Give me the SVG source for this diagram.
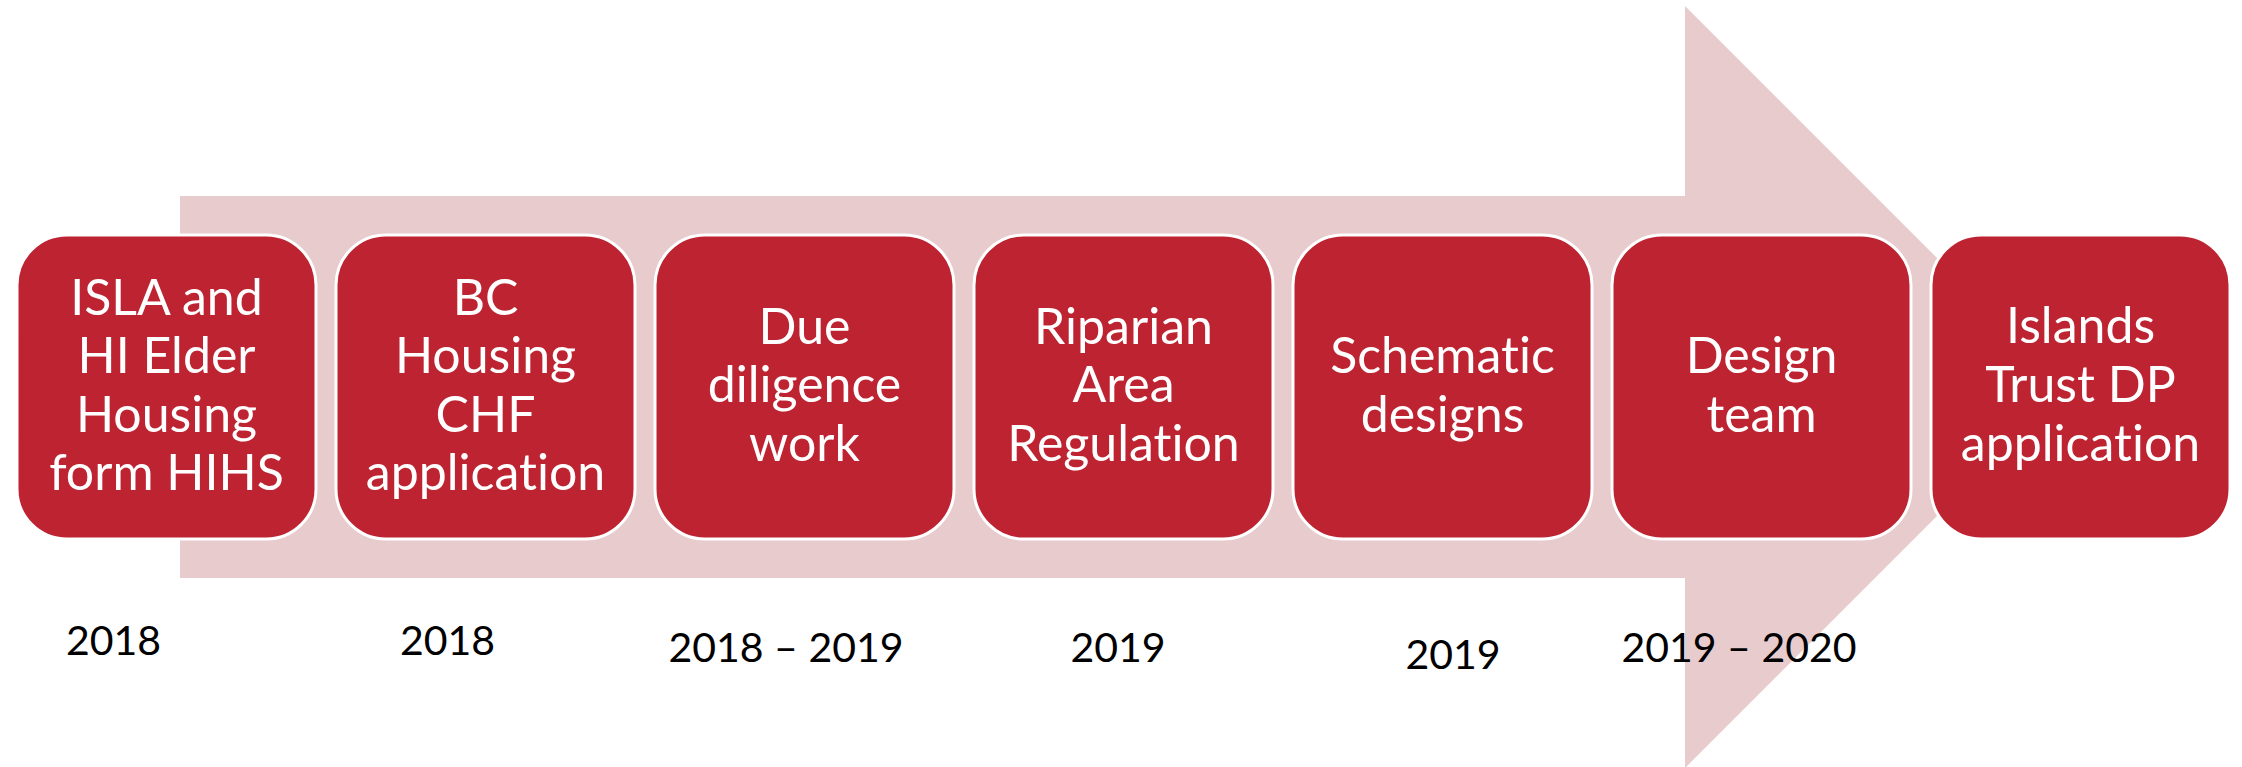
<svg xmlns="http://www.w3.org/2000/svg" width="2242" height="767" viewBox="0 0 2242 767">
  <style>
    .step rect { fill: #BD2331; stroke: #FFFFFF; stroke-width: 3; }
    .step text { font-family: Lato, "Liberation Sans", sans-serif; font-size: 50px; fill: #FFFFFF; text-anchor: middle; font-variant-ligatures: none; }
    .year { font-family: Lato, "Liberation Sans", sans-serif; font-size: 41px; fill: #000000; text-anchor: middle; }
  </style>
  <rect width="2242" height="767" fill="#FFFFFF"/>

  <!-- background timeline arrow -->
  <g id="connectors">
    <polygon points="180,196 1685,196 1685,6 2066,387 1685,768 1685,578 180,578" fill="#E7CBCD"/>
  </g>

  <g id="step1" class="step">
    <rect x="17" y="235" width="299" height="304" rx="50" ry="50"/>
    <text x="166.5" y="315">ISLA and</text>
    <text x="166.5" y="373">HI Elder</text>
    <text x="166.5" y="432">Housing</text>
    <text x="166.5" y="490">form HIHS</text>
  </g>
  <g id="step2" class="step">
    <rect x="336" y="235" width="299" height="304" rx="50" ry="50"/>
    <text x="485.5" y="315">BC</text>
    <text x="485.5" y="373">Housing</text>
    <text x="485.5" y="432">CHF</text>
    <text x="485.5" y="490">application</text>
  </g>
  <g id="step3" class="step">
    <rect x="655" y="235" width="299" height="304" rx="50" ry="50"/>
    <text x="804.5" y="344">Due</text>
    <text x="804.5" y="402">diligence</text>
    <text x="804.5" y="461">work</text>
  </g>
  <g id="step4" class="step">
    <rect x="974" y="235" width="299" height="304" rx="50" ry="50"/>
    <text x="1123.5" y="344">Riparian</text>
    <text x="1123.5" y="402">Area</text>
    <text x="1123.5" y="461">Regulation</text>
  </g>
  <g id="step5" class="step">
    <rect x="1293" y="235" width="299" height="304" rx="50" ry="50"/>
    <text x="1442.5" y="373">Schematic</text>
    <text x="1442.5" y="432">designs</text>
  </g>
  <g id="step6" class="step">
    <rect x="1612" y="235" width="299" height="304" rx="50" ry="50"/>
    <text x="1761.5" y="373">Design</text>
    <text x="1761.5" y="432">team</text>
  </g>
  <g id="step7" class="step">
    <rect x="1931" y="235" width="299" height="304" rx="50" ry="50"/>
    <text x="2080.5" y="343">Islands</text>
    <text x="2080.5" y="402">Trust DP</text>
    <text x="2080.5" y="461">application</text>
  </g>

  <g id="years">
    <text class="year" x="113.5" y="655">2018</text>
    <text class="year" x="447.5" y="655">2018</text>
    <text class="year" x="786" y="662">2018 – 2019</text>
    <text class="year" x="1118" y="662">2019</text>
    <text class="year" x="1453" y="669">2019</text>
    <text class="year" x="1739" y="662">2019 – 2020</text>
  </g>
</svg>
